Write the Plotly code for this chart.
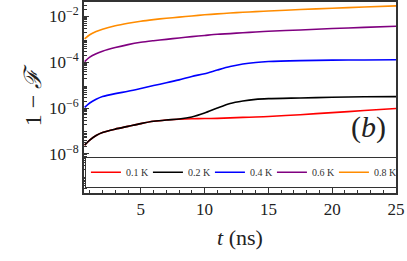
import plotly.graph_objects as go

# time grid (ns)
t_ns = [0.6, 1, 1.5, 2, 3, 4, 5, 6, 7, 8, 9, 10, 11, 12, 13, 14, 15, 17.5, 20, 22.5, 25]

# log10(1 - F)
log_01K = [-7.62, -7.40, -7.20, -7.07, -6.92, -6.80, -6.68, -6.58, -6.52, -6.49, -6.47, -6.46,
           -6.45, -6.43, -6.41, -6.39, -6.37, -6.29, -6.20, -6.11, -6.02]
log_02K = [-7.62, -7.40, -7.20, -7.07, -6.92, -6.80, -6.68, -6.58, -6.52, -6.48, -6.39, -6.22,
           -6.00, -5.80, -5.69, -5.62, -5.59, -5.56, -5.53, -5.51, -5.50]
log_04K = [-5.97, -5.78, -5.62, -5.50, -5.37, -5.27, -5.15, -5.02, -4.90, -4.77, -4.62, -4.50,
           -4.34, -4.19, -4.08, -4.01, -3.97, -3.93, -3.91, -3.90, -3.89]
log_06K = [-3.97, -3.78, -3.63, -3.52, -3.36, -3.23, -3.13, -3.06, -3.00, -2.94, -2.88, -2.83,
           -2.78, -2.75, -2.71, -2.68, -2.65, -2.59, -2.53, -2.48, -2.43]
log_08K = [-2.98, -2.80, -2.66, -2.56, -2.41, -2.30, -2.21, -2.14, -2.08, -2.03, -1.98, -1.93,
           -1.89, -1.85, -1.82, -1.79, -1.76, -1.70, -1.64, -1.59, -1.54]

series_names = ["0.1 K", "0.2 K", "0.4 K", "0.6 K", "0.8 K"]
series_logs = [log_01K, log_02K, log_04K, log_06K, log_08K]
series_colors = ["#ff0000", "#000000", "#0000ff", "#800080", "#ff8c00"]

x_ticks = [5, 10, 15, 20, 25]
y_tick_exps = [-2, -4, -6, -8]

SERIF = "Liberation Serif, Times New Roman, serif"

fig = go.Figure()
for name, logs, col in zip(series_names, series_logs, series_colors):
    fig.add_trace(go.Scatter(
        x=t_ns, y=[10 ** v for v in logs], mode="lines", name=name,
        line=dict(color=col, width=1.6, shape="spline", smoothing=0.8),
    ))

minor_y = [m * 10 ** e for e in range(-10, -1) for m in range(2, 10)]

fig.update_layout(
    width=407, height=261,
    margin=dict(l=84, r=11, t=2, b=68),
    paper_bgcolor="white", plot_bgcolor="white",
    font=dict(family=SERIF, color="#222"),
    showlegend=True,
    legend=dict(
        orientation="h", x=0.003, y=0.19, xanchor="left", yanchor="top",
        bgcolor="white", bordercolor="#333", borderwidth=1,
        font=dict(family=SERIF, size=10, color="#333"),
        itemwidth=30, entrywidth=17, entrywidthmode="pixels", tracegroupgap=0,
    ),
    xaxis=dict(
        range=[0.55, 25], showgrid=False, zeroline=False, automargin=False,
        showline=True, linecolor="#333", linewidth=2, mirror=True,
        ticks="inside", ticklen=5, tickcolor="#333",
        tickvals=x_ticks, ticktext=[str(v) for v in x_ticks],
        tickfont=dict(family=SERIF, size=17, color="#222"),
        minor=dict(ticks="inside", ticklen=3, dtick=1, tickcolor="#333", showgrid=False),
        title=dict(text="<i>t</i> (ns)", font=dict(family=SERIF, size=22, color="#222"), standoff=11),
    ),
    yaxis=dict(
        type="log", range=[-9.71, -1.37], showgrid=False, zeroline=False, automargin=False,
        showline=True, linecolor="#333", linewidth=2, mirror=True,
        ticks="inside", ticklen=5, tickcolor="#333",
        tickvals=[10 ** e for e in y_tick_exps],
        ticktext=["10<sup>\u2212%d</sup>" % (-e) for e in y_tick_exps],
        tickfont=dict(family=SERIF, size=17, color="#222"),
        minor=dict(ticks="inside", ticklen=3, tickvals=minor_y, tickcolor="#333", showgrid=False),
        title=dict(text="1 \u2212 <i>\u2131</i>", font=dict(family=SERIF, size=24, color="#222"), standoff=1),
    ),
    annotations=[dict(
        text="(<i>b</i>)", x=0.913, y=0.345, xref="paper", yref="paper",
        xanchor="center", yanchor="middle",
        showarrow=False, font=dict(family=SERIF, size=30, color="#222"),
    )],
)

fig.write_html("out.html", config={"displayModeBar": False},
               post_script="document.body.style.margin='0';")
